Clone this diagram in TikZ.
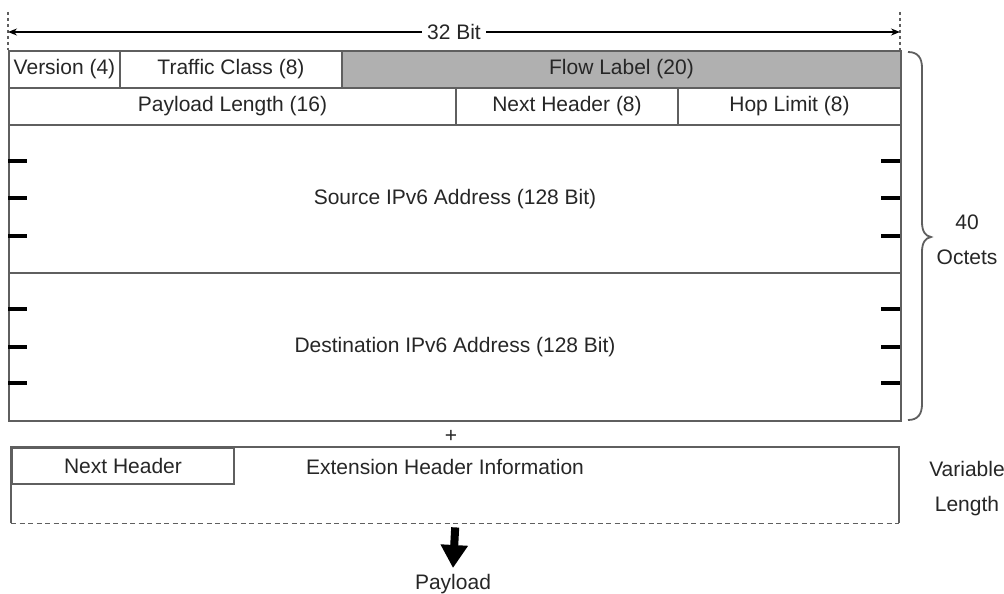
\documentclass[tikz,border=0pt]{standalone}
\usepackage{fontspec}
\setmainfont{Liberation Sans}
\usetikzlibrary{arrows.meta}
\definecolor{linegray}{RGB}{95,95,95}
\definecolor{flowgray}{RGB}{176,176,176}
\begin{document}
\begin{tikzpicture}[x=1pt,y=-1pt,
  every node/.style={font=\fontsize{21}{25}\selectfont, inner sep=0pt, text=black!85},
  field/.style={draw=linegray, line width=2pt, anchor=north west, minimum height=37pt},
  ticks/.style={line width=3.5pt, black},
  border/.style={draw=linegray, line width=2pt},
  guide/.style={linegray, line width=1.6pt, dash pattern=on 3pt off 3pt},
  dimarrow/.style={line width=1.4pt, {Stealth[length=9pt,width=7pt]}-{Stealth[length=9pt,width=7pt]}},
  bigarrow/.style={line width=8pt, -{Triangle[length=23pt,width=26pt]}},
  bracestyle/.style={draw=linegray, line width=1.8pt}
]
\useasboundingbox (0,0) rectangle (1004,594);
% top dimension
\coordinate (L) at (8,32);
\coordinate (R) at (900,32);
\draw[guide] (8,12) -- (8,50);
\draw[guide] (900,12) -- (900,50);
\draw[dimarrow] (L) -- node[fill=white, inner xsep=5pt, inner ysep=2pt] (bits) {32 Bit} (R);
% row 1
\node[field, minimum width=111pt] (ver) at (8,50) {Version (4)};
\node[field, minimum width=222pt] (tc) at (119,50) {Traffic Class (8)};
\node[field, minimum width=559pt, fill=flowgray] (fl) at (341,50) {Flow Label (20)};
% row 2
\node[field, minimum width=447pt] (pl) at (8,87) {Payload Length (16)};
\node[field, minimum width=222pt] (nh) at (455,87) {Next Header (8)};
\node[field, minimum width=223pt] (hl) at (677,87) {Hop Limit (8)};
% addresses
\node[field, minimum width=892pt, minimum height=148pt] (src) at (8,124) {Source IPv6 Address (128 Bit)};
\node[field, minimum width=892pt, minimum height=148pt] (dst) at (8,272) {Destination IPv6 Address (128 Bit)};
% ticks
\foreach \y in {161,198,236,309,347,383} {
  \draw[ticks] (8,\y) -- (27,\y);
  \draw[ticks] (881,\y) -- (900,\y);
}
% brace
\draw[bracestyle] (908,52) .. controls (918,52) and (922,58) .. (922,68) -- (922,222)
  .. controls (922,231) and (925,236) .. (931,237)
  .. controls (925,238) and (922,243) .. (922,252) -- (922,404)
  .. controls (922,414) and (918,420) .. (908,420);
\node[align=center] (oct) at (967,240) {40\\[10pt]Octets};
% plus
\node (plus) at (451,436) {+};
% extension header
\node[anchor=north west, minimum width=888pt, minimum height=76pt] (ext) at (11,447) {};
\draw[border] (ext.south west) -- (ext.north west) -- (ext.north east) -- (ext.south east);
\draw[linegray, line width=1.8pt, dash pattern=on 5pt off 3.5pt] (ext.south west) -- (ext.south east);
\node[field, minimum width=222pt, minimum height=36pt] (enh) at (11,447) {Next Header};
\node (ehi) at (445,467) {Extension Header Information};
\node[align=center] (var) at (967,489) {Variable\\[10pt]Length};
% payload
\node (pay) at (453,584) {Payload};
\draw[bigarrow] ([yshift=-4pt]ext.south) -- ([yshift=6pt]pay.north);
\end{tikzpicture}
\end{document}
